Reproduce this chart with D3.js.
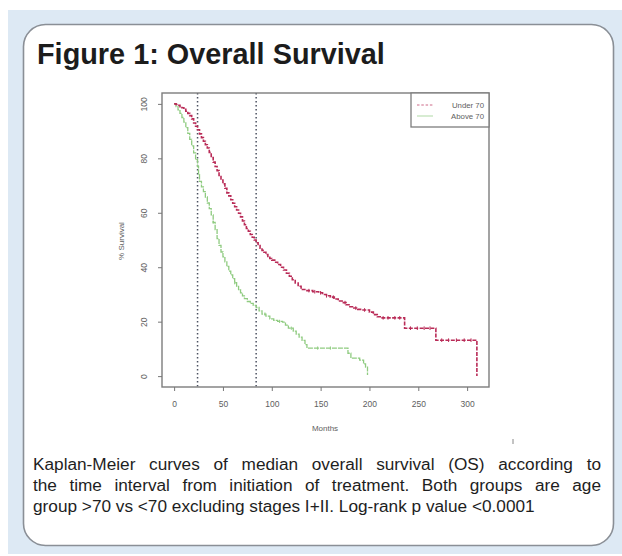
<!DOCTYPE html>
<html>
<head>
<meta charset="utf-8">
<script src="https://cdn.jsdelivr.net/npm/d3@7"></script>
<style>
  html, body { margin: 0; padding: 0; background: #ffffff; }
  svg { display: block; }
</style>
</head>
<body>
<svg id="chart" width="622" height="556"></svg>
<script>
// ---------------- data ----------------
const titleText = "Figure 1: Overall Survival";
const captionLines = [
  "Kaplan-Meier curves of median overall survival (OS) according to",
  "the time interval from initiation of treatment. Both groups are age",
  "group >70 vs <70 excluding stages I+II. Log-rank p value <0.0001"
];
const seriesNames = ["Under 70", "Above 70"];

// Under 70 (red, dashed) step points: months / % survival
const under70Months = [0, 2, 4, 6, 8, 10, 12, 14, 16, 18, 20, 22, 24, 26, 28, 30, 32, 34, 36, 38, 40, 42, 44, 46, 48, 50, 52, 54, 56, 58, 60, 62, 64, 66, 68, 70, 72, 74, 76, 78, 80, 82, 84, 86, 88, 90, 92, 94, 96, 98, 100, 103, 106, 109, 112, 115, 118, 121, 124, 127, 130, 136, 142, 148, 152, 156, 160, 164, 168, 172, 176, 180, 184, 188, 192, 200, 204, 208, 212, 236, 268, 310];
const under70Surv   = [100, 99.8, 99.5, 99, 98.6, 98, 97.3, 96.5, 95.7, 94.5, 93, 91.8, 90.5, 89, 87.6, 86.3, 85, 83.8, 82.2, 80.3, 78.6, 77, 75.5, 73.7, 72, 70.6, 69, 67.3, 66.2, 64.8, 63.5, 62.2, 61, 59.8, 58.5, 57, 55.6, 54.2, 53.2, 52, 51, 50, 49, 48, 47, 46.2, 45.5, 44.7, 44, 43.2, 42.6, 41.8, 41, 40, 39, 37.8, 36.7, 35.4, 34.2, 33, 31.8, 31.4, 31, 30.6, 30, 29.5, 29, 28.3, 27.6, 27, 26.2, 25.5, 25, 24.5, 24.3, 23.5, 22.6, 21.8, 21.4, 17.6, 13.2, 0];
const under70Censor = [138, 144, 150, 156, 163, 175, 186, 195, 214, 219, 226, 231, 242, 249, 256, 262, 274, 281, 289, 297, 304];

// Above 70 (green, solid)
const above70Months = [0, 2, 4, 6, 8, 10, 12, 14, 16, 18, 20, 22, 24, 25, 26, 28, 30, 32, 34, 36, 38, 40, 42, 44, 46, 48, 50, 52, 54, 56, 58, 60, 62, 64, 66, 68, 70, 72, 75, 78, 81, 84, 87, 90, 94, 98, 102, 106, 111, 114, 117, 122, 125, 128, 131, 134, 136, 178, 181, 190, 194, 196, 198];
const above70Surv   = [100, 99, 97.8, 96.5, 95, 93.3, 91.3, 89.2, 87, 84.6, 82, 79.5, 77, 74, 71.5, 69.5, 67.8, 65.8, 63.6, 61.5, 59.2, 56.5, 53.8, 50.5, 48, 45.6, 43.8, 42, 40.3, 38.6, 37.2, 35.8, 34.3, 33, 31.8, 30.6, 29.5, 28.5, 27.4, 26.7, 26, 25.2, 24, 22.8, 22, 21, 20.5, 20.1, 19.8, 18.7, 17.6, 16.5, 15.4, 14.3, 13.1, 11.6, 10.3, 8.4, 6.6, 5.9, 4.5, 3.3, 0.4];
const above70Censor = [40, 62, 93, 108, 120, 147, 160];

const xTicks = [0, 50, 100, 150, 200, 250, 300];
const yTicks = [0, 20, 40, 60, 80, 100];
const refLines = [24, 84];   // dotted vertical reference lines (months)
const xLabel = "Months";
const yLabel = "% Survival";

// ---------------- drawing ----------------
const svg = d3.select("#chart");
const FONT = "'Liberation Sans', Arial, Helvetica, sans-serif";

// background panel
svg.append("rect").attr("x", 8).attr("y", 10).attr("width", 614).attr("height", 544)
  .attr("fill", "#dde9f4");
svg.append("rect").attr("x", 23.5).attr("y", 24.5).attr("width", 590).attr("height", 521)
  .attr("rx", 22).attr("ry", 22)
  .attr("fill", "#ffffff").attr("stroke", "#8a8f96").attr("stroke-width", 1.6);

// title
const title = svg.append("text").attr("x", 37).attr("y", 64)
  .attr("font-family", FONT).attr("font-weight", "bold")
  .attr("font-size", 24).attr("fill", "#1c1c1c").text(titleText);
{
  const w = title.node().getComputedTextLength();
  title.attr("font-size", 24 * 348 / w);
}

// plot geometry
const plot = { left: 162, right: 489, top: 93, bottom: 387 };
const xs = d3.scaleLinear().domain([-12.4, 322.4]).range([plot.left, plot.right]);
const ys = d3.scaleLinear().domain([-4, 104]).range([plot.bottom, plot.top]);

const g = svg.append("g");

// reference lines
g.selectAll("line.ref").data(refLines).join("line")
  .attr("class", "ref")
  .attr("x1", d => xs(d)).attr("x2", d => xs(d))
  .attr("y1", plot.top).attr("y2", plot.bottom)
  .attr("stroke", "#4d5262").attr("stroke-width", 1.5)
  .attr("stroke-dasharray", "1.6,2.4");

// curves
const line = d3.line().x(d => xs(d[0])).y(d => ys(d[1])).curve(d3.curveStepAfter);
const under = d3.zip(under70Months, under70Surv);
const above = d3.zip(above70Months, above70Surv);

const RED = "#b92b57";
const GREEN = "#8fcb80";

g.append("path").datum(above).attr("d", line)
  .attr("fill", "none").attr("stroke", GREEN).attr("stroke-width", 1.3)
  .attr("stroke-dasharray", "5,1");
g.append("path").datum(under).attr("d", line)
  .attr("fill", "none").attr("stroke", RED).attr("stroke-width", 1.6)
  .attr("stroke-dasharray", "4,1.4");

function survAt(months, surv, t) {
  let v = surv[0];
  for (let i = 0; i < months.length; i++) { if (months[i] <= t) v = surv[i]; }
  return v;
}
g.selectAll("line.cu").data(under70Censor).join("line").attr("class", "cu")
  .attr("x1", d => xs(d)).attr("x2", d => xs(d))
  .attr("y1", d => ys(survAt(under70Months, under70Surv, d)) - 1.8)
  .attr("y2", d => ys(survAt(under70Months, under70Surv, d)) + 1.8)
  .attr("stroke", RED).attr("stroke-width", 1);
g.selectAll("line.ca").data(above70Censor).join("line").attr("class", "ca")
  .attr("x1", d => xs(d)).attr("x2", d => xs(d))
  .attr("y1", d => ys(survAt(above70Months, above70Surv, d)) - 1.6)
  .attr("y2", d => ys(survAt(above70Months, above70Surv, d)) + 1.6)
  .attr("stroke", GREEN).attr("stroke-width", 1);

// box
g.append("rect").attr("x", plot.left).attr("y", plot.top)
  .attr("width", plot.right - plot.left).attr("height", plot.bottom - plot.top)
  .attr("fill", "none").attr("stroke", "#7d7d7d").attr("stroke-width", 1.4);

// axes (R style)
const xAxis = d3.axisBottom(xs).tickValues(xTicks).tickSize(4).tickPadding(10).tickFormat(d3.format("d"));
const gx = svg.append("g").attr("transform", `translate(0,${plot.bottom})`).call(xAxis);
gx.select(".domain").remove();
gx.selectAll(".tick line").attr("stroke", "#777");
gx.selectAll(".tick text").attr("font-family", FONT).attr("font-size", 8.5).attr("fill", "#5e5e5e");

const yAxis = d3.axisLeft(ys).tickValues(yTicks).tickSize(4).tickFormat(d3.format("d"));
const gy = svg.append("g").attr("transform", `translate(${plot.left},0)`).call(yAxis);
gy.select(".domain").remove();
gy.selectAll(".tick line").attr("stroke", "#777");
gy.selectAll(".tick text")
  .attr("font-family", FONT).attr("font-size", 8.5).attr("fill", "#5e5e5e")
  .attr("x", null).attr("dy", null)
  .attr("text-anchor", "middle")
  .attr("transform", "translate(-18,0) rotate(-90)")
  .attr("y", 3);

svg.append("text").attr("x", 325).attr("y", 431).attr("text-anchor", "middle")
  .attr("font-family", FONT).attr("font-size", 8).attr("fill", "#5e5e5e").text(xLabel);
svg.append("text").attr("transform", "translate(124,241) rotate(-90)").attr("text-anchor", "middle")
  .attr("font-family", FONT).attr("font-size", 8).attr("fill", "#5e5e5e").text(yLabel);

// legend
const lg = svg.append("g");
lg.append("rect").attr("x", 411).attr("y", plot.top).attr("width", plot.right - 411).attr("height", 34)
  .attr("fill", "#fff").attr("stroke", "#7d7d7d").attr("stroke-width", 1.3);
const legendItems = [
  { name: seriesNames[0], color: RED, dash: "2.5,1.8", y: 105 },
  { name: seriesNames[1], color: GREEN, dash: null, y: 116 }
];
legendItems.forEach(it => {
  lg.append("line").attr("x1", 417).attr("x2", 433).attr("y1", it.y).attr("y2", it.y)
    .attr("stroke", it.color).attr("stroke-width", 1).attr("opacity", 0.7)
    .attr("stroke-dasharray", it.dash);
  lg.append("text").attr("x", 484).attr("y", it.y + 2.6).attr("text-anchor", "end")
    .attr("font-family", FONT).attr("font-size", 7.8).attr("fill", "#5e5e5e").text(it.name);
});

// stray mark
svg.append("line").attr("x1", 513).attr("x2", 513).attr("y1", 439).attr("y2", 444)
  .attr("stroke", "#888").attr("stroke-width", 1);

// caption (justified)
const capLeft = 33, capRight = 601;
const baselines = [470, 491, 512];
const probe = svg.append("text").attr("font-family", FONT).attr("font-size", 16).text(captionLines[2]);
const capSize = 16 * 502 / probe.node().getComputedTextLength();
probe.remove();

captionLines.forEach((ln, i) => {
  const t = svg.append("text").attr("y", baselines[i])
    .attr("font-family", FONT).attr("font-size", capSize).attr("fill", "#1e1e1e");
  const words = ln.split(" ");
  if (i === captionLines.length - 1) {
    t.attr("x", capLeft).text(ln);
    return;
  }
  const spans = words.map(w => t.append("tspan").text(w));
  const widths = spans.map(s => s.node().getComputedTextLength());
  const total = d3.sum(widths);
  const gap = (capRight - capLeft - total) / (words.length - 1);
  let x = capLeft;
  spans.forEach((s, k) => { s.attr("x", x); x += widths[k] + gap; });
});
</script>
</body>
</html>
